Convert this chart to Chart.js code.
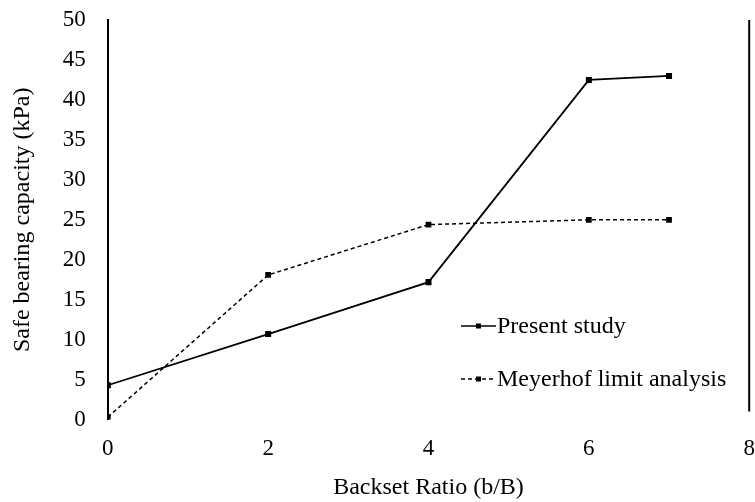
<!DOCTYPE html>
<html>
<head>
<meta charset="utf-8">
<script src="https://cdn.jsdelivr.net/npm/chart.js@4"></script>
<style>
  html, body { margin: 0; padding: 0; background: #fff; }
  #wrap { width: 755px; height: 502px; }
</style>
</head>
<body>
<div id="wrap"><canvas id="chart"></canvas></div>
<script>
// 数据
const backsetRatio = [0, 2, 4, 6, 7];
const presentStudy = [4.3, 10.7, 17.2, 42.5, 43.0];
const meyerhofLimit = [0.3, 18.1, 24.4, 25.0, 25.0];
const seriesNames = ['Present study', 'Meyerhof limit analysis'];
const xTitle = 'Backset Ratio (b/B)';
const yTitle = 'Safe bearing capacity (kPa)';

const fontFamily = '"Liberation Serif", "DejaVu Serif", serif';

// 图内图例 + 右侧边框
const extras = {
    id: 'extras',
    afterDraw(chart) {
        const ctx = chart.ctx;
        const area = chart.chartArea;
        ctx.save();
        // 右边框
        ctx.strokeStyle = '#000';
        ctx.lineWidth = 2;
        ctx.beginPath();
        ctx.moveTo(area.right, area.top);
        ctx.lineTo(area.right, area.bottom - 8);
        ctx.stroke();

        // 图例
        const rows = [
            { label: seriesNames[0], y: 326, dash: [] },
            { label: seriesNames[1], y: 379, dash: [4, 3] }
        ];
        ctx.font = '24px ' + fontFamily;
        ctx.textBaseline = 'middle';
        ctx.fillStyle = '#000';
        rows.forEach(r => {
            ctx.setLineDash(r.dash);
            ctx.lineWidth = 1.5;
            ctx.beginPath();
            ctx.moveTo(461, r.y);
            ctx.lineTo(496, r.y);
            ctx.stroke();
            ctx.setLineDash([]);
            ctx.fillRect(476, r.y - 2.5, 5, 5);
            ctx.fillText(r.label, 497, r.y + 1);
        });
        ctx.restore();
    }
};

new Chart(document.getElementById('chart'), {
    type: 'line',
    data: {
        datasets: [{
            label: seriesNames[0],
            data: backsetRatio.map((x, i) => ({ x: x, y: presentStudy[i] })),
            borderColor: '#000',
            backgroundColor: '#000',
            borderWidth: 1.8,
            pointStyle: 'rect',
            pointRadius: 3,
            tension: 0
        }, {
            label: seriesNames[1],
            data: backsetRatio.map((x, i) => ({ x: x, y: meyerhofLimit[i] })),
            borderColor: '#000',
            backgroundColor: '#000',
            borderWidth: 1.5,
            borderDash: [4, 3],
            pointStyle: 'rect',
            pointRadius: 3,
            tension: 0
        }]
    },
    options: {
        responsive: true,
        maintainAspectRatio: false,
        animation: false,
        layout: { padding: { left: 0, top: 20, right: 0, bottom: 0 } },
        plugins: {
            legend: { display: false },
            tooltip: { enabled: false }
        },
        scales: {
            x: {
                type: 'linear',
                min: 0,
                max: 8,
                grid: { display: true, drawOnChartArea: false, drawTicks: true, tickLength: 16, color: 'rgba(0,0,0,0)' },
                border: { display: false },
                ticks: {
                    stepSize: 2,
                    padding: 0,
                    color: '#000',
                    font: { family: fontFamily, size: 23 }
                },
                title: {
                    display: true,
                    text: xTitle,
                    color: '#000',
                    padding: { top: 10, bottom: 0 },
                    font: { family: fontFamily, size: 24 }
                }
            },
            y: {
                min: 0,
                max: 50,
                grid: { display: true, drawOnChartArea: false, drawTicks: true, tickLength: 19, color: 'rgba(0,0,0,0)' },
                border: { display: true, color: '#000', width: 2 },
                ticks: {
                    stepSize: 5,
                    padding: 3,
                    color: '#000',
                    font: { family: fontFamily, size: 23 }
                },
                title: {
                    display: true,
                    text: yTitle,
                    color: '#000',
                    padding: { top: 8, bottom: 23 },
                    font: { family: fontFamily, size: 24 }
                }
            }
        }
    },
    plugins: [extras]
});
</script>
</body>
</html>
